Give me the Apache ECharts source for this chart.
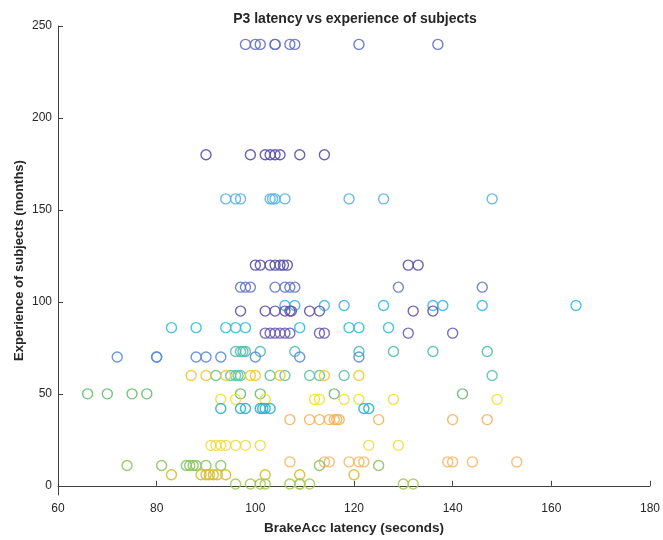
<!DOCTYPE html>
<html>
<head>
<meta charset="utf-8">
<script src="https://cdn.jsdelivr.net/npm/echarts@6/dist/echarts.min.js"></script>
<style>html,body{margin:0;padding:0;background:#fff}#c{width:663px;height:540px}</style>
</head>
<body>
<div id="c"></div>
<script>
// Experience (months) for each subject group
const experience = [240, 180, 156, 120, 108, 98, 95, 86, 83, 73, 70, 60, 60, 50, 47, 42, 36, 22, 13, 11, 6, 1];
// BrakeAcc latency (seconds) per subject group
const lat240 = [98, 100, 101, 104, 104, 107, 108, 121, 137];
const lat180 = [90, 99, 102, 103, 104, 105, 109, 114];
const lat156 = [94, 96, 97, 103, 103.5, 104, 106, 119, 126, 148];
const lat120 = [100, 101, 103, 104, 105, 105.7, 106.5, 131, 133];
const lat108 = [97, 98, 99, 104, 106, 107, 108, 129, 146];
const lat98  = [106, 108, 114, 118, 126, 136, 138, 146, 165];
const lat95  = [97, 102, 104, 106, 107, 107.3, 111, 113, 132, 136];
const lat86  = [83, 88, 94, 96, 98, 109, 119, 121, 127];
const lat83  = [102, 103, 104, 105, 106, 107, 113, 114, 131, 140];
const lat73  = [96, 97, 97.5, 98, 101, 108, 121, 128, 136, 147];
const lat70  = [72, 80, 80, 88, 90, 93, 100, 109, 121];
const lat60a = [92, 95, 96, 96.5, 97, 103, 106, 111, 113, 118, 148];
const lat60b = [87, 90, 94, 99, 100, 105, 114, 121];
const lat50  = [66, 70, 75, 78, 97, 101, 116, 142];
const lat47  = [93, 96, 102, 112, 113, 118, 121, 128, 149];
const lat42  = [93, 97, 98, 101, 101.5, 102, 103, 122, 123];
const lat36  = [107, 111, 113, 115, 116, 116.5, 117, 125, 140, 147];
const lat22  = [91, 92, 93, 94, 96, 98, 101, 123, 129];
const lat13  = [107, 114, 115, 119, 121, 122, 139, 140, 144, 153];
const lat11  = [74, 81, 86, 86.7, 87.4, 88, 90, 93, 113, 125];
const lat6   = [83, 89, 90, 90.7, 91.5, 92.3, 94, 102, 109, 120];
const lat1   = [96, 99, 101, 102, 107, 109, 109, 111, 130, 132];
const latencies = [lat240, lat180, lat156, lat120, lat108, lat98, lat95, lat86, lat83, lat73, lat70,
                   lat60a, lat60b, lat50, lat47, lat42, lat36, lat22, lat13, lat11, lat6, lat1];
// Axis tick labels
const xTicks = [60, 80, 100, 120, 140, 160, 180];
const yTicks = [0, 50, 100, 150, 200, 250];

const palette = [
  '#6670c4', '#5a50aa', '#5ab4e4', '#5852a8', '#6478c8', '#3cb8e4', '#6652aa', '#34bcdc',
  '#6e5cb4', '#52c0ae', '#5a8cdc', '#62c4a0', '#f0c838', '#66bc6e', '#f2e030', '#28b2cc',
  '#f4b25a', '#f0dc40', '#f8b868', '#8cc662', '#d6be30', '#a8cc52'
];

const series = experience.map((e, i) => ({
  type: 'scatter',
  symbol: 'circle',
  symbolSize: 10,
  itemStyle: { color: 'rgba(0,0,0,0)', borderColor: palette[i], borderWidth: 1.4, opacity: 0.9 },
  data: latencies[i].map(v => [v, e]),
  silent: true
}));

const chart = echarts.init(document.getElementById('c'), null, { renderer: 'canvas' });
chart.setOption({
  animation: false,
  backgroundColor: '#fff',
  title: {
    text: 'P3 latency vs experience of subjects',
    left: 350, top: 7, textAlign: 'center',
    textStyle: { fontFamily: 'Liberation Sans', fontSize: 14, fontWeight: 'bold', color: '#262626' }
  },
  grid: { left: 58, right: 9, top: 26, bottom: 45, containLabel: false },
  xAxis: {
    type: 'value', min: xTicks[0], max: xTicks[xTicks.length - 1], interval: 20,
    name: 'BrakeAcc latency (seconds)', nameLocation: 'middle', nameGap: 26,
    nameMoveOverlap: false,
    nameTextStyle: { fontFamily: 'Liberation Sans', fontSize: 13.5, fontWeight: 'bold', color: '#262626' },
    axisLine: { lineStyle: { color: '#404040', width: 1 } },
    axisTick: { inside: true, length: 5, lineStyle: { color: '#404040' } },
    axisLabel: { fontFamily: 'Liberation Sans', fontSize: 12, color: '#262626', margin: 8 },
    splitLine: { show: false }
  },
  yAxis: {
    type: 'value', min: -5, max: 250,
    name: 'Experience of subjects (months)', nameLocation: 'middle', nameGap: 32,
    nameMoveOverlap: false,
    nameTextStyle: { fontFamily: 'Liberation Sans', fontSize: 13, fontWeight: 'bold', color: '#262626' },
    axisLine: { lineStyle: { color: '#404040', width: 1 } },
    axisTick: { inside: true, length: 5, customValues: yTicks, lineStyle: { color: '#404040' } },
    axisLabel: { fontFamily: 'Liberation Sans', fontSize: 12, color: '#262626', margin: 6, customValues: yTicks },
    splitLine: { show: false }
  },
  series: series
});
</script>
</body>
</html>
